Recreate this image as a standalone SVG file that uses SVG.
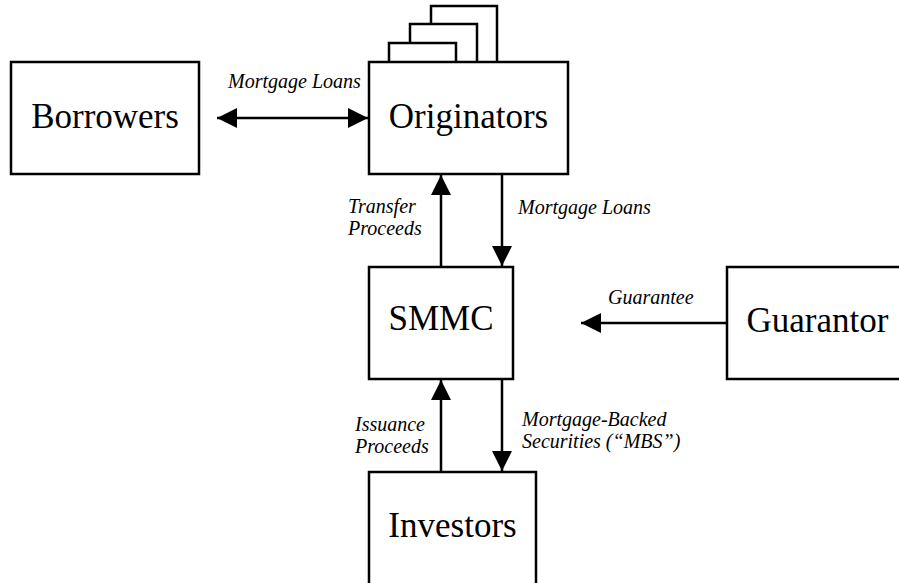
<svg xmlns="http://www.w3.org/2000/svg" width="899" height="583" viewBox="0 0 899 583">
<style>
.box{fill:#fff;stroke:#000;stroke-width:2.5}
.lbl{font-size:35px;fill:#000;text-anchor:middle}
.it{font-size:20px;font-style:italic;fill:#000}
.ln{stroke:#000;stroke-width:2.5;fill:none}
</style>
<defs>
<marker id="ah" markerWidth="20" markerHeight="20" viewBox="0 0 20 20" refX="20" refY="10" orient="auto-start-reverse" markerUnits="userSpaceOnUse">
<path d="M0,0 L20,10 L0,20 Z" fill="#000"/>
</marker>
</defs>
<rect width="899" height="583" fill="#fff"/>
<g font-family="'Liberation Serif', 'DejaVu Serif', serif">
<g id="borrowers">
<rect class="box" x="11" y="62" width="188" height="112"/>
<text class="lbl" x="105" y="128">Borrowers</text>
</g>
<g id="originators">
<rect class="box" x="431" y="6" width="66" height="60"/>
<rect class="box" x="410" y="24" width="67" height="42"/>
<rect class="box" x="389" y="43" width="67" height="23"/>
<rect class="box" x="369" y="62" width="199" height="112"/>
<text class="lbl" x="468.5" y="128">Originators</text>
</g>
<g id="smmc">
<rect class="box" x="369" y="267" width="144" height="112"/>
<text class="lbl" x="441" y="330">SMMC</text>
</g>
<g id="guarantor">
<rect class="box" x="727" y="267" width="181" height="112"/>
<text class="lbl" x="817.5" y="332">Guarantor</text>
</g>
<g id="investors">
<rect class="box" x="369" y="472" width="167" height="120"/>
<text class="lbl" x="452.5" y="537">Investors</text>
</g>
<g id="connectors">
<line class="ln" x1="217" y1="118" x2="368" y2="118" marker-start="url(#ah)" marker-end="url(#ah)"/>
<line class="ln" x1="441" y1="267" x2="441" y2="175" marker-end="url(#ah)"/>
<line class="ln" x1="502" y1="174" x2="502" y2="266" marker-end="url(#ah)"/>
<line class="ln" x1="727" y1="323" x2="581" y2="323" marker-end="url(#ah)"/>
<line class="ln" x1="441" y1="472" x2="441" y2="380" marker-end="url(#ah)"/>
<line class="ln" x1="502" y1="379" x2="502" y2="471" marker-end="url(#ah)"/>
<text class="it" x="228" y="88">Mortgage Loans</text>
<text class="it" x="348" y="213">Transfer</text>
<text class="it" x="348" y="235">Proceeds</text>
<text class="it" x="518" y="214">Mortgage Loans</text>
<text class="it" x="608" y="304">Guarantee</text>
<text class="it" x="355" y="431">Issuance</text>
<text class="it" x="355" y="453">Proceeds</text>
<text class="it" x="522" y="426">Mortgage-Backed</text>
<text class="it" x="522" y="448">Securities (“MBS”)</text>
</g>
</g>
</svg>
